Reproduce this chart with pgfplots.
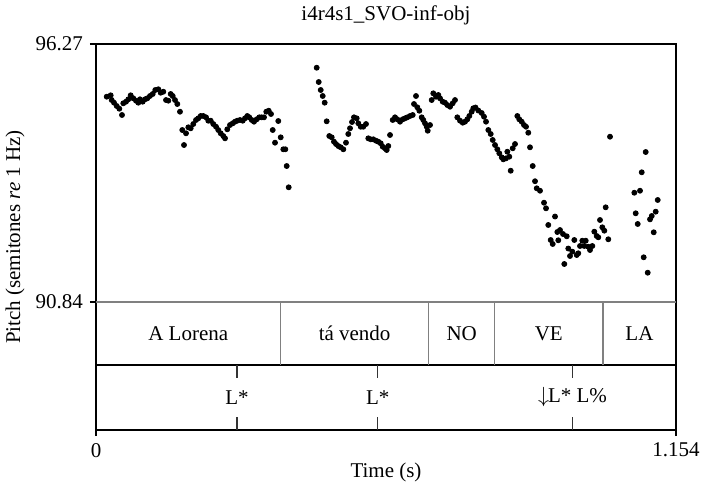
\documentclass[border=0pt]{standalone}
\usepackage{pgfplots}
\pgfplotsset{compat=1.18}
\usepackage{fontspec}
\setmainfont{Liberation Serif}

% Pitch track: time (s), pitch (semitones re 1 Hz)
\pgfplotstableread{
t p
0.0213 95.161
0.0292 95.190
0.0312 95.091
0.0358 95.035
0.0412 94.965
0.0464 94.908
0.0517 94.776
0.0543 95.022
0.0597 95.056
0.0643 95.106
0.0690 95.190
0.0742 95.127
0.0796 95.077
0.0842 95.035
0.0875 95.106
0.0929 95.056
0.0975 95.106
0.1021 95.127
0.1074 95.176
0.1128 95.218
0.1180 95.302
0.1240 95.317
0.1287 95.245
0.1339 95.266
0.1393 95.091
0.1439 95.077
0.1486 95.218
0.1526 95.176
0.1572 95.091
0.1618 95.007
0.1671 94.845
0.1717 94.460
0.1751 94.144
0.1791 94.391
0.1837 94.517
0.1884 94.496
0.1936 94.586
0.1990 94.671
0.2035 94.706
0.2083 94.755
0.2135 94.755
0.2189 94.727
0.2234 94.656
0.2282 94.656
0.2334 94.586
0.2388 94.529
0.2433 94.460
0.2481 94.391
0.2533 94.334
0.2567 94.285
0.2612 94.475
0.2666 94.565
0.2720 94.601
0.2766 94.635
0.2811 94.656
0.2865 94.671
0.2919 94.656
0.2965 94.706
0.3010 94.755
0.3050 94.727
0.3098 94.671
0.3144 94.635
0.3197 94.685
0.3249 94.727
0.3297 94.727
0.3343 94.727
0.3388 94.845
0.3436 94.866
0.3482 94.797
0.3516 94.460
0.3562 94.193
0.3627 94.649
0.3675 94.306
0.3727 94.054
0.3767 94.054
0.3794 93.702
0.3834 93.254
0.4391 95.771
0.4431 95.470
0.4471 95.302
0.4511 95.176
0.4550 95.035
0.4590 94.643
0.4642 94.334
0.4690 94.306
0.4735 94.214
0.4775 94.165
0.4821 94.123
0.4869 94.096
0.4921 94.054
0.4974 94.193
0.5020 94.376
0.5054 94.496
0.5094 94.628
0.5133 94.727
0.5187 94.706
0.5219 94.601
0.5267 94.529
0.5318 94.529
0.5372 94.586
0.5418 94.285
0.5466 94.264
0.5517 94.264
0.5571 94.235
0.5617 94.214
0.5665 94.180
0.5704 94.109
0.5750 94.075
0.5784 94.039
0.5816 94.123
0.5850 94.355
0.5903 94.671
0.5949 94.727
0.5995 94.685
0.6049 94.635
0.6102 94.685
0.6148 94.706
0.6194 94.727
0.6248 94.755
0.6301 94.776
0.6327 95.007
0.6367 95.176
0.6393 94.938
0.6433 94.866
0.6480 94.727
0.6512 94.671
0.6546 94.601
0.6580 94.529
0.6600 94.445
0.6646 94.565
0.6679 95.091
0.6711 95.232
0.6765 95.161
0.6811 95.197
0.6845 95.127
0.6898 95.056
0.6944 95.035
0.6990 94.986
0.7044 94.950
0.7097 95.022
0.7143 95.091
0.7189 94.727
0.7243 94.656
0.7296 94.614
0.7342 94.635
0.7388 94.685
0.7428 94.755
0.7475 94.845
0.7507 94.917
0.7551 94.934
0.7607 94.870
0.7674 94.818
0.7720 94.740
0.7760 94.635
0.7806 94.460
0.7853 94.376
0.7893 94.250
0.7939 94.144
0.7985 94.054
0.8024 93.970
0.8072 93.885
0.8104 93.843
0.8158 93.864
0.8184 94.003
0.8223 93.898
0.8251 93.603
0.8291 94.075
0.8337 94.165
0.8383 94.755
0.8422 94.685
0.8470 94.635
0.8516 94.565
0.8556 94.529
0.8601 94.403
0.8635 94.096
0.8689 93.702
0.8735 93.382
0.8769 93.233
0.8834 93.182
0.8914 92.930
0.8954 92.812
0.8999 92.461
0.9047 92.145
0.9087 92.061
0.9133 92.639
0.9179 92.313
0.9198 92.139
0.9232 92.355
0.9292 92.271
0.9318 91.640
0.9366 92.223
0.9397 91.966
0.9431 91.808
0.9477 91.899
0.9517 92.145
0.9564 91.829
0.9596 91.865
0.9630 92.019
0.9676 92.130
0.9716 92.019
0.9744 92.130
0.9795 92.004
0.9829 91.934
0.9875 92.019
0.9915 92.320
0.9962 92.229
0.9994 92.202
1.0028 92.566
1.0074 92.412
1.0114 92.341
1.0141 92.833
1.0193 92.160
1.0227 94.319
1.0711 93.140
1.0738 92.707
1.0778 92.482
1.0824 93.182
1.0858 93.570
1.0897 91.781
1.0937 93.997
1.0977 91.457
1.1023 92.580
1.1057 92.650
1.1097 92.307
1.1136 92.741
1.1176 92.987
}\pitchdata

\begin{document}
\begin{tikzpicture}
\useasboundingbox (-48pt,-27pt) rectangle (302.5pt,215pt);
\begin{axis}[
  scale only axis,
  width=290pt, height=193pt,
  xmin=0, xmax=1.154,
  ymin=88.146, ymax=96.27,
  clip=false,
  axis line style={black, line width=0.6pt},
  tick align=outside,
  major tick length=3pt,
  tick style={black, line width=0.6pt},
  xtick pos=bottom, ytick pos=left,
  xtick={0,1.154}, xticklabels={0,1.154},
  ytick={90.84,96.27}, yticklabels={90.84,96.27},
  every tick label/.append style={font=\fontsize{10.5}{12}\selectfont},
  label style={font=\fontsize{10.5}{12}\selectfont},
  title={i4r4s1\_SVO-inf-obj},
  title style={font=\fontsize{10.5}{12}\selectfont, at={(axis description cs:0.5,1.073)}, anchor=center, yshift=-6pt},
  xlabel={Time (s)},
  xlabel style={at={(axis description cs:0.5,0)}, anchor=center, yshift=-21pt},
  ylabel={Pitch (semitones \textit{re} 1 Hz)},
  ylabel style={at={(axis description cs:-0.1397,0.5)}, anchor=center},
]
% pitch points
\addplot[only marks, mark=*, mark size=1.25pt, black] table[x=t, y=p] {\pitchdata};

% boundary between pitch panel and the word tier
\draw[gray, line width=0.6pt] (axis cs:0,90.84) -- (axis cs:1.154,90.84);
% boundary between the word tier and the tone tier
\draw[black, line width=0.6pt] (axis cs:0,89.514) -- (axis cs:1.154,89.514);

% word tier: interval boundaries and labels
\pgfplotsinvokeforeach{0.3671,0.6620,0.7931,1.0087}{
  \draw[gray, line width=0.6pt] (axis cs:#1,90.84) -- (axis cs:#1,89.514);
}
\node[font=\fontsize{10.5}{12}\selectfont] at (axis cs:0.18355,90.177) {A Lorena};
\node[font=\fontsize{10.5}{12}\selectfont] at (axis cs:0.51455,90.177) {tá vendo};
\node[font=\fontsize{10.5}{12}\selectfont] at (axis cs:0.72755,90.177) {NO};
\node[font=\fontsize{10.5}{12}\selectfont] at (axis cs:0.9009,90.177) {VE};
\node[font=\fontsize{10.5}{12}\selectfont] at (axis cs:1.08135,90.177) {LA};

% tone tier: point marks and labels
\pgfplotsinvokeforeach{0.2807,0.5605,0.9481}{
  \draw[black!80, line width=0.6pt] (axis cs:#1,89.514) -- (axis cs:#1,89.240);
  \draw[black!80, line width=0.6pt] (axis cs:#1,88.146) -- (axis cs:#1,88.420);
}
\node[font=\fontsize{10.5}{12}\selectfont] at (axis cs:0.2807,88.83) {L*};
\node[font=\fontsize{10.5}{12}\selectfont] at (axis cs:0.5605,88.83) {L*};
\node[font=\fontsize{10.5}{12}\selectfont] at (axis cs:0.9481,88.83) {$\downarrow$\kern-0.5pt L* L\%};
\end{axis}
\end{tikzpicture}
\end{document}
